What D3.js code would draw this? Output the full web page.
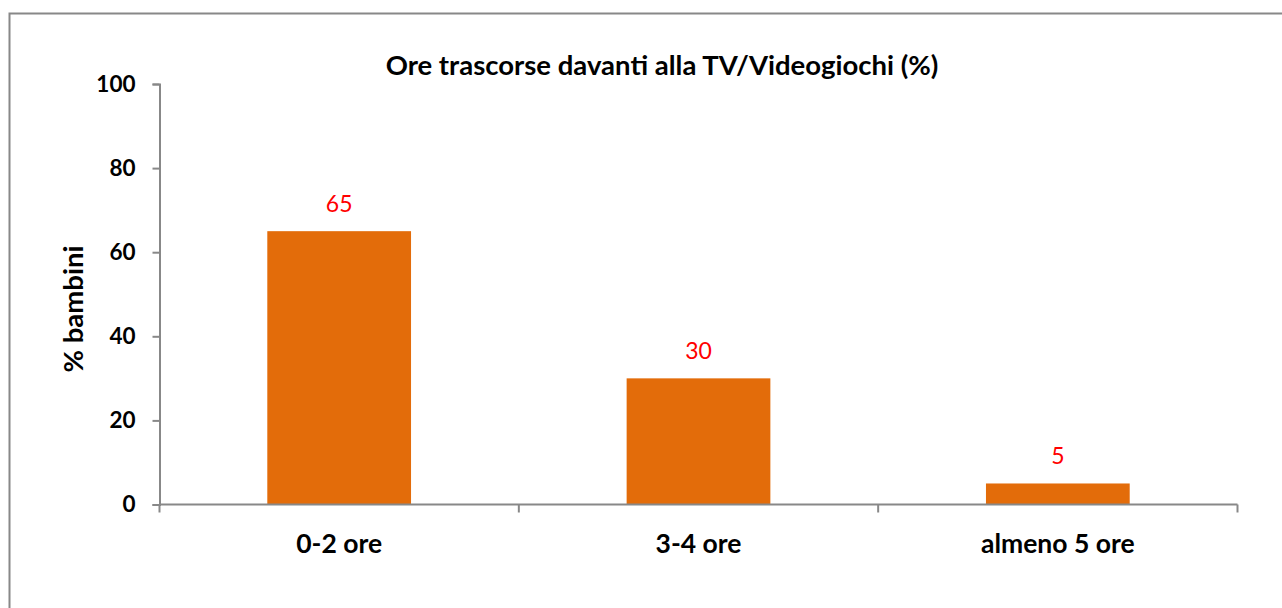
<!DOCTYPE html>
<html><head><meta charset="utf-8">
<script src="https://cdn.jsdelivr.net/npm/d3@7"></script>
<style>body{margin:0;background:#fff}svg{display:block}text{font-family:Lato,"Open Sans",sans-serif}</style>
</head><body>
<svg id="c" width="1282" height="608"></svg>
<script>
const categories = ["0-2 ore", "3-4 ore", "almeno 5 ore"];
const values = [65, 30, 5];
const yTicks = [0, 20, 40, 60, 80, 100];
const title = "Ore trascorse davanti alla TV/Videogiochi (%)";
const yLabel = "% bambini";

const svg = d3.select("#c");
svg.append("rect").attr("x", 9.5).attr("y", 13.5).attr("width", 1290).attr("height", 620)
  .attr("fill", "none").attr("stroke", "#888").attr("stroke-width", 2);

const m = {l: 159.5, r: 1237.5, t: 84, b: 504.5};
const x = d3.scaleBand().domain(categories).range([m.l, m.r]).paddingInner(0.6).paddingOuter(0.3);
const y = d3.scaleLinear().domain([0, 100]).range([m.b, m.t]);

// bars
svg.selectAll("rect.bar").data(values).join("rect").attr("class", "bar")
  .attr("x", (d, i) => x(categories[i])).attr("width", x.bandwidth())
  .attr("y", d => y(d)).attr("height", d => y(0) - y(d)).attr("fill", "#E36C0A");

// y axis
const ya = svg.append("g").attr("transform", `translate(${m.l},0)`)
  .call(d3.axisLeft(y).tickValues(yTicks).tickSize(7).tickPadding(17));
ya.select(".domain").attr("stroke", "#888").attr("stroke-width", 2);
ya.selectAll(".tick line").attr("stroke", "#888").attr("stroke-width", 2);
ya.selectAll(".tick text").attr("font-size", 22.5).attr("font-weight", "bold").attr("fill", "#000");

// x axis with boundary ticks
const xa = svg.append("g").attr("transform", `translate(0,${m.b})`);
xa.append("line").attr("x1", m.l).attr("x2", m.r).attr("stroke", "#888").attr("stroke-width", 2);
const step = (m.r - m.l) / categories.length;
const bounds = d3.range(categories.length + 1).map(i => m.l + i * step);
xa.selectAll("line.t").data(bounds).join("line").attr("class", "t")
  .attr("x1", d => d).attr("x2", d => d).attr("y1", 0).attr("y2", 8)
  .attr("stroke", "#888").attr("stroke-width", 2);
xa.selectAll("text").data(categories).join("text")
  .attr("x", d => x(d) + x.bandwidth() / 2).attr("y", 48)
  .attr("text-anchor", "middle").attr("font-size", 26.5).attr("font-weight", "bold").text(d => d);

// value labels
svg.selectAll("text.v").data(values).join("text").attr("class", "v")
  .attr("x", (d, i) => x(categories[i]) + x.bandwidth() / 2).attr("y", d => y(d) - 19)
  .attr("text-anchor", "middle").attr("font-size", 23).attr("fill", "#FF0000").text(d => d);

svg.append("text").attr("x", 662).attr("y", 75).attr("text-anchor", "middle")
  .attr("font-size", 27.5).attr("font-weight", "bold").text(title);
svg.append("text").attr("transform", "translate(83,309) rotate(-90)").attr("text-anchor", "middle")
  .attr("font-size", 27.5).attr("font-weight", "bold").text(yLabel);
</script>
</body></html>
